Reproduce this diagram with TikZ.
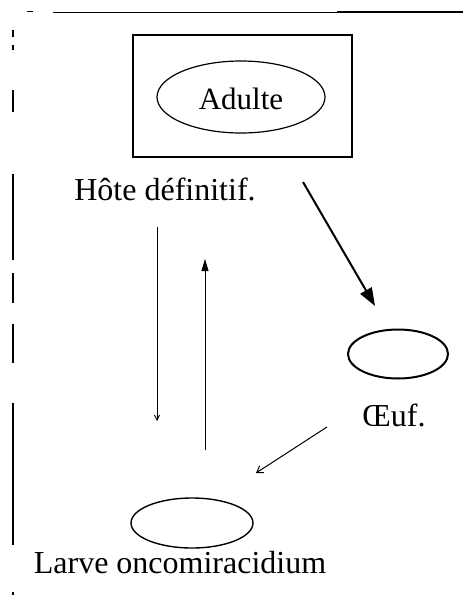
\documentclass[tikz,border=0pt]{standalone}
\usepackage{fontspec}
\setmainfont{Liberation Serif}
\usetikzlibrary{arrows.meta,shapes.geometric}
\begin{document}
\begin{tikzpicture}[x=1pt,y=-1pt,
  lbl/.style={font=\fontsize{32}{37}\selectfont, inner sep=0pt},
  oval/.style={draw, ellipse, inner sep=0pt, line width=1pt},
  thin/.style={line width=0.8pt}]
\useasboundingbox (0,0) rectangle (463,595);
% frame remnants
\draw[line width=1pt] (53,12) -- (337,12);
\draw[line width=2.2pt] (337,12) -- (463,12);
\draw[line width=1pt] (27,11) -- (33,11);
\foreach \a/\b in {30/37,45/50,90/112,174/260,273/303,324/363,403/545,592/595}
  \draw[line width=1.2pt] (13,\a) -- (13,\b);
% host box with adult
\node[draw, line width=1.2pt, minimum width=219pt, minimum height=122pt, inner sep=0pt] (host) at (242.5,96) {};
\node[oval, minimum width=168pt, minimum height=72pt, line width=1.2pt] (adult) at (241,97) {};
\node[lbl, font=\fontsize{31}{36}\selectfont] (adulttxt) at (241,99) {Adulte};
\node[lbl, anchor=base] (hostlbl) at (165,200) {Hôte définitif.};
% egg
\node[oval, minimum width=100pt, minimum height=49pt, line width=2pt] (egg) at (398,354) {};
\node[lbl, anchor=base] (egglbl) at (394,426) {Œuf.};
% larva
\node[oval, minimum width=122pt, minimum height=50pt, line width=1.4pt] (larva) at (192,523) {};
\node[lbl, anchor=base] (larvalbl) at (180,573) {Larve oncomiracidium};
% arrow end points
\coordinate (a1s) at (303,182);
\coordinate (a1e) at (375,306);
\coordinate (a2s) at (157,227);
\coordinate (a2e) at (157,421);
\coordinate (a3s) at (205,450);
\coordinate (a3e) at (205,259);
\coordinate (a4s) at (327,427);
\coordinate (a4e) at (256,473);
% arrows
\draw[line width=2pt, -{Triangle[length=18pt,width=13pt]}] (a1s) -- (a1e);
\draw[thin, -{Straight Barb[length=5pt,width=5pt]}] (a2s) -- (a2e);
\draw[thin, -{Triangle[length=12pt,width=7pt]}] (a3s) -- (a3e);
\draw[line width=1pt, -{Straight Barb[length=6pt,width=8pt]}] (a4s) -- (a4e);
\end{tikzpicture}
\end{document}
